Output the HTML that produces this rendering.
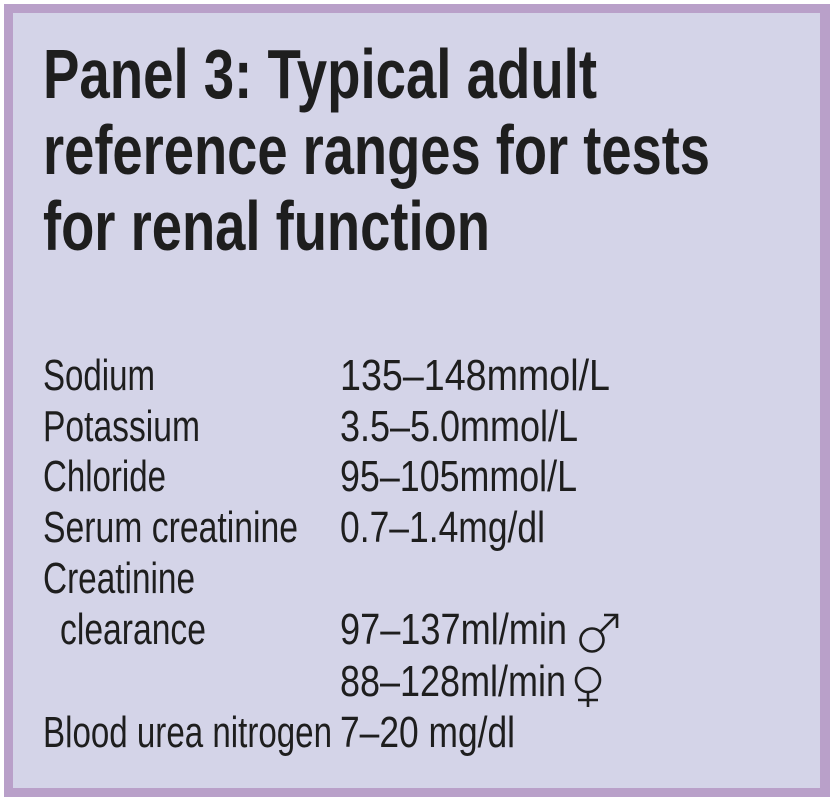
<!DOCTYPE html>
<html><head><meta charset="utf-8"><style>
html,body{margin:0;padding:0;background:#fff;width:838px;height:804px;overflow:hidden}
svg{display:block}
text{font-family:"Liberation Sans",sans-serif;fill:#1e1e1e}
.t{font-weight:bold;font-size:70px}
.b{font-size:44px}
</style></head><body>
<svg width="838" height="804" viewBox="0 0 838 804">
<rect x="4" y="4" width="826" height="793" fill="#b9a0c9"/>
<rect x="13" y="13" width="807" height="775" fill="#d4d4e8"/>
<text class="t" x="43" y="98" textLength="554" lengthAdjust="spacingAndGlyphs">Panel 3: Typical adult</text>
<text class="t" x="43" y="174" textLength="667" lengthAdjust="spacingAndGlyphs">reference ranges for tests</text>
<text class="t" x="43" y="250" textLength="447" lengthAdjust="spacingAndGlyphs">for renal function</text>
<text class="b" x="43" y="390" textLength="112" lengthAdjust="spacingAndGlyphs">Sodium</text>
<text class="b" x="340" y="390" textLength="270" lengthAdjust="spacingAndGlyphs">135–148mmol/L</text>
<text class="b" x="43" y="441" textLength="157" lengthAdjust="spacingAndGlyphs">Potassium</text>
<text class="b" x="340" y="441" textLength="238" lengthAdjust="spacingAndGlyphs">3.5–5.0mmol/L</text>
<text class="b" x="43" y="491" textLength="123" lengthAdjust="spacingAndGlyphs">Chloride</text>
<text class="b" x="340" y="491" textLength="237" lengthAdjust="spacingAndGlyphs">95–105mmol/L</text>
<text class="b" x="43" y="542" textLength="255" lengthAdjust="spacingAndGlyphs">Serum creatinine</text>
<text class="b" x="340" y="542" textLength="205" lengthAdjust="spacingAndGlyphs">0.7–1.4mg/dl</text>
<text class="b" x="43" y="593" textLength="152" lengthAdjust="spacingAndGlyphs">Creatinine</text>
<text class="b" x="60" y="644" textLength="146" lengthAdjust="spacingAndGlyphs">clearance</text>
<text class="b" x="340" y="644" textLength="227" lengthAdjust="spacingAndGlyphs">97–137ml/min</text>
<text class="b" x="340" y="696" textLength="226" lengthAdjust="spacingAndGlyphs">88–128ml/min</text>
<text class="b" x="43" y="747" textLength="289" lengthAdjust="spacingAndGlyphs">Blood urea nitrogen</text>
<text class="b" x="340" y="747" textLength="175" lengthAdjust="spacingAndGlyphs">7–20 mg/dl</text>
<g fill="none" stroke="#1e1e1e" stroke-width="2.6">
<circle cx="592" cy="640" r="11.5"/>
<line x1="600" y1="632" x2="617" y2="615"/>
<polyline points="604,615 617,615 617,628"/>
<circle cx="588" cy="680" r="12"/>
<line x1="588" y1="692" x2="588" y2="707"/>
<line x1="578" y1="700" x2="598" y2="700"/>
</g>
</svg>
</body></html>
